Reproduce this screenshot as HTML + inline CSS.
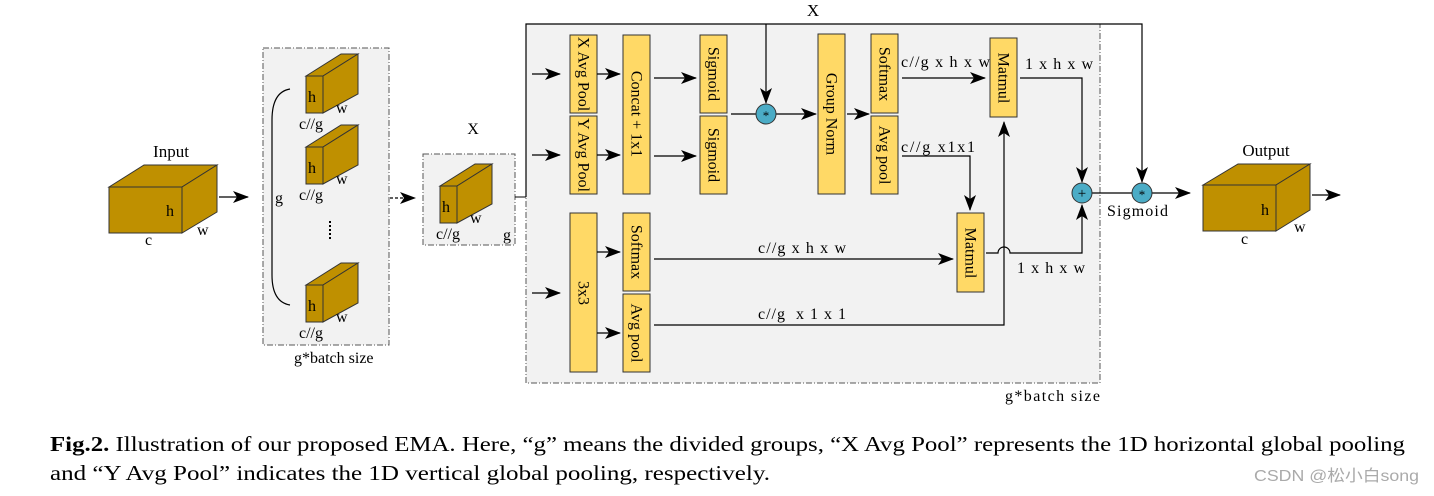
<!DOCTYPE html>
<html><head><meta charset="utf-8"><style>
html,body{margin:0;padding:0;background:#fff;}
svg{display:block;font-family:"Liberation Serif",serif;}
</style></head><body>
<svg width="1434" height="496" viewBox="0 0 1434 496" xmlns="http://www.w3.org/2000/svg">
<defs>
<marker id="b" markerWidth="16" markerHeight="12" refX="15" refY="6" orient="auto" markerUnits="userSpaceOnUse"><path d="M0,0 L16,6 L0,12 L4,6 Z" fill="#000"/></marker>
</defs>
<g font-size="16">
<!-- Input cube -->
<polygon points="109,187 144,165 217,165 182,187" fill="#bf9000" stroke="#333"/>
<polygon points="182,187 217,165 217,212 182,233" fill="#bf9000" stroke="#333"/>
<rect x="109" y="187" width="73" height="46" fill="#bf9000" stroke="#333"/>
<text x="171" y="157" font-size="17" text-anchor="middle">Input</text>
<text x="166" y="216">h</text><text x="197" y="235">w</text><text x="145" y="245">c</text>
<line x1="219" y1="197" x2="248" y2="197" stroke="#000" stroke-width="1.2" marker-end="url(#b)"/>
<!-- box2 -->
<rect x="263" y="48" width="126" height="297" fill="#f2f2f2" stroke="#555" stroke-dasharray="6,2,1,2"/>
<path d="M290,89 Q272,92 272,120 L272,275 Q272,302 290,305" fill="none" stroke="#000" stroke-width="1.2"/>
<text x="275" y="203">g</text>
<line x1="330" y1="221" x2="330" y2="240" stroke="#000" stroke-width="2" stroke-dasharray="2,2"/>
<g id="sc">
<polygon points="306,76 341,54 358,54 323,76" fill="#bf9000" stroke="#333"/>
<polygon points="323,76 358,54 358,94 323,113" fill="#bf9000" stroke="#333"/>
<rect x="306" y="76" width="17" height="37" fill="#bf9000" stroke="#333"/>
<text x="308" y="102">h</text><text x="336" y="113">w</text><text x="299" y="129">c//g</text>
</g>
<use href="#sc" transform="translate(0,71)"/>
<use href="#sc" transform="translate(0,209)"/>
<text x="294" y="363">g*batch size</text>
<line x1="390" y1="198" x2="415" y2="198" stroke="#000" stroke-width="1.2" stroke-dasharray="3,2" marker-end="url(#b)"/>
<!-- box3 -->
<rect x="423" y="154" width="92" height="91" fill="#f2f2f2" stroke="#555" stroke-dasharray="6,2,1,2"/>
<text x="473" y="134" font-size="16" text-anchor="middle">X</text>
<g transform="translate(134,110)">
<polygon points="306,76 341,54 358,54 323,76" fill="#bf9000" stroke="#333"/>
<polygon points="323,76 358,54 358,94 323,113" fill="#bf9000" stroke="#333"/>
<rect x="306" y="76" width="17" height="37" fill="#bf9000" stroke="#333"/>
<text x="308" y="102">h</text><text x="336" y="113">w</text><text x="302" y="129">c//g</text>
</g>
<text x="503" y="240">g</text>
<line x1="515" y1="197" x2="526" y2="197" stroke="#000"/>
<!-- main box -->
<rect x="526" y="24" width="574" height="359" fill="#f2f2f2" stroke="#555" stroke-dasharray="6,2,1,2"/>
<polyline points="526,197 526,24 1142,24 1142,182" fill="none" stroke="#000" stroke-width="1.2" marker-end="url(#b)"/>
<text x="813" y="16" font-size="17" text-anchor="middle">X</text>
<line x1="766" y1="24" x2="766" y2="103" stroke="#000" stroke-width="1.2" marker-end="url(#b)"/>
<line x1="532" y1="74" x2="560" y2="74" stroke="#000" stroke-width="1.2" marker-end="url(#b)"/>
<line x1="532" y1="155" x2="560" y2="155" stroke="#000" stroke-width="1.2" marker-end="url(#b)"/>
<line x1="532" y1="293" x2="560" y2="293" stroke="#000" stroke-width="1.2" marker-end="url(#b)"/>
<g fill="#ffd966" stroke="#333">
<rect x="570" y="35" width="27" height="78"/><rect x="570" y="116" width="27" height="78"/>
<rect x="623" y="35" width="27" height="159"/>
<rect x="700" y="35" width="27" height="78"/><rect x="700" y="116" width="27" height="78"/>
<rect x="818" y="34" width="27" height="160"/>
<rect x="871" y="34" width="27" height="79"/><rect x="871" y="116" width="27" height="78"/>
<rect x="990" y="38" width="27" height="79"/>
<rect x="957" y="213" width="27" height="79"/>
<rect x="570" y="213" width="27" height="159"/>
<rect x="623" y="213" width="27" height="78"/><rect x="623" y="294" width="27" height="78"/>
</g>
<g font-size="16" dominant-baseline="central">
<text transform="translate(583,74) rotate(90)" text-anchor="middle">X Avg Pool</text>
<text transform="translate(583,155) rotate(90)" text-anchor="middle">Y Avg Pool</text>
<text transform="translate(636,114) rotate(90)" text-anchor="middle">Concat + 1x1</text>
<text transform="translate(713,74) rotate(90)" text-anchor="middle">Sigmoid</text>
<text transform="translate(713,155) rotate(90)" text-anchor="middle">Sigmoid</text>
<text transform="translate(831,114) rotate(90)" text-anchor="middle">Group Norm</text>
<text transform="translate(884,74) rotate(90)" text-anchor="middle">Softmax</text>
<text transform="translate(884,155) rotate(90)" text-anchor="middle">Avg pool</text>
<text transform="translate(1003,78) rotate(90)" text-anchor="middle">Matmul</text>
<text transform="translate(970,253) rotate(90)" text-anchor="middle">Matmul</text>
<text transform="translate(583,293) rotate(90)" text-anchor="middle">3x3</text>
<text transform="translate(636,252) rotate(90)" text-anchor="middle">Softmax</text>
<text transform="translate(636,333) rotate(90)" text-anchor="middle">Avg pool</text>
</g>
<g stroke="#000" stroke-width="1.2" fill="none">
<line x1="597" y1="74" x2="620" y2="74" marker-end="url(#b)"/>
<line x1="597" y1="155" x2="620" y2="155" marker-end="url(#b)"/>
<line x1="654" y1="78" x2="696" y2="78" marker-end="url(#b)"/>
<line x1="654" y1="156" x2="696" y2="156" marker-end="url(#b)"/>
<line x1="731" y1="114" x2="756" y2="114"/>
<line x1="776" y1="114" x2="816" y2="114" marker-end="url(#b)"/>
<line x1="847" y1="114" x2="869" y2="114" marker-end="url(#b)"/>
<line x1="902" y1="78" x2="985" y2="78" marker-end="url(#b)"/>
<polyline points="1020,78 1082,78 1082,182" marker-end="url(#b)"/>
<polyline points="902,156 970,156 970,210" marker-end="url(#b)"/>
<line x1="597" y1="252" x2="620" y2="252" marker-end="url(#b)"/>
<line x1="597" y1="333" x2="620" y2="333" marker-end="url(#b)"/>
<line x1="654" y1="259" x2="953" y2="259" marker-end="url(#b)"/>
<polyline points="654,325 1004,325 1004,122" marker-end="url(#b)"/>
<path d="M986,253 L998,253 A6,6 0 0 1 1010,253 L1082,253 L1082,205" marker-end="url(#b)"/>
<line x1="1092" y1="193" x2="1132" y2="193"/>
<line x1="1152" y1="193" x2="1190" y2="193" marker-end="url(#b)"/>
<line x1="1312" y1="195" x2="1340" y2="195" marker-end="url(#b)"/>
</g>
<circle cx="766" cy="114" r="10" fill="#4bacc6" stroke="#333"/><text x="766" y="120" text-anchor="middle" font-size="13">*</text>
<circle cx="1082" cy="193" r="10" fill="#4bacc6" stroke="#333"/><text x="1082" y="198" text-anchor="middle" font-size="15">+</text>
<circle cx="1142" cy="193" r="10" fill="#4bacc6" stroke="#333"/><text x="1142" y="199" text-anchor="middle" font-size="13">*</text>
<text x="901" y="67" textLength="89" lengthAdjust="spacing">c//g x h x w</text>
<text x="1025" y="69" textLength="68" lengthAdjust="spacing">1 x h x w</text>
<text x="901" y="152" textLength="74" lengthAdjust="spacing">c//g x1x1</text>
<text x="758" y="253" textLength="88" lengthAdjust="spacing">c//g x h x w</text>
<text x="1017" y="273" textLength="68" lengthAdjust="spacing">1 x h x w</text>
<text x="758" y="319" textLength="88" lengthAdjust="spacing">c//g&#160; x 1 x 1</text>
<text x="1107" y="216" textLength="61" lengthAdjust="spacing">Sigmoid</text>
<text x="1005" y="401" textLength="95" lengthAdjust="spacing">g*batch size</text>
<!-- output cube -->
<polygon points="1203,185 1238,164 1310,164 1276,185" fill="#bf9000" stroke="#333"/>
<polygon points="1276,185 1310,164 1310,210 1276,231" fill="#bf9000" stroke="#333"/>
<rect x="1203" y="185" width="73" height="46" fill="#bf9000" stroke="#333"/>
<text x="1266" y="156" font-size="17" text-anchor="middle">Output</text>
<text x="1261" y="215">h</text><text x="1294" y="232">w</text><text x="1241" y="244">c</text>
</g>
<text x="50" y="451" font-size="21" textLength="1355" lengthAdjust="spacingAndGlyphs"><tspan font-weight="bold">Fig.2.</tspan> Illustration of our proposed EMA. Here, “g” means the divided groups, “X Avg Pool” represents the 1D horizontal global pooling</text>
<text x="50" y="480" font-size="21" textLength="720" lengthAdjust="spacingAndGlyphs">and “Y Avg Pool” indicates the 1D vertical global pooling, respectively.</text>
<text x="1254" y="481" font-size="16" fill="#aaa" textLength="165" lengthAdjust="spacingAndGlyphs" font-family="'Liberation Sans','Noto Sans CJK SC',sans-serif">CSDN @松小白song</text>
</svg>
</body></html>
